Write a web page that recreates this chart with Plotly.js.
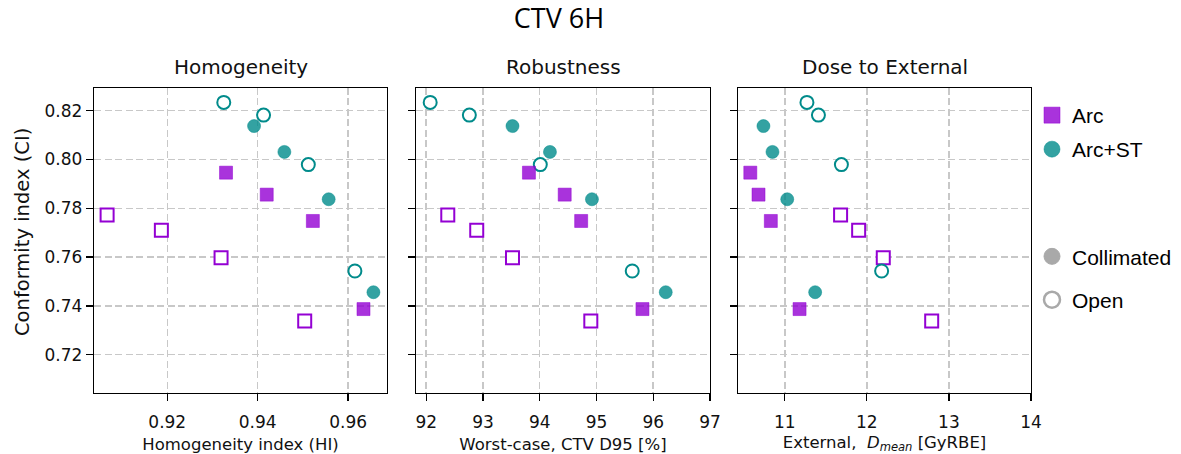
<!DOCTYPE html>
<html>
<head>
<meta charset="utf-8">
<script src="https://cdn.plot.ly/plotly-3.0.1.min.js"></script>
<style>html,body{margin:0;padding:0;background:#fff;}#chart{width:1181px;height:454px;}</style>
</head>
<body>
<div id="chart"></div>
<script>
// Conformity index (CI) per group
const ciArcCol  = [0.7946, 0.7856, 0.7748, 0.7387];
const ciArcOpen = [0.7772, 0.7710, 0.7597, 0.7338];
const ciStCol   = [0.8137, 0.8031, 0.7837, 0.7456];
const ciStOpen  = [0.8234, 0.8182, 0.7979, 0.7543];

// Homogeneity index (HI)
const hiArcCol  = [0.9330, 0.9420, 0.9522, 0.9634];
const hiArcOpen = [0.9067, 0.9187, 0.9319, 0.9504];
const hiStCol   = [0.9392, 0.9459, 0.9557, 0.9656];
const hiStOpen  = [0.9325, 0.9413, 0.9512, 0.9615];

// Worst-case CTV D95 [%]
const d95ArcCol  = [93.81, 94.44, 94.73, 95.81];
const d95ArcOpen = [92.38, 92.89, 93.52, 94.90];
const d95StCol   = [93.52, 94.18, 94.92, 96.22];
const d95StOpen  = [92.07, 92.76, 94.01, 95.63];

// External Dmean [GyRBE]
const dmArcCol  = [10.58, 10.68, 10.83, 11.18];
const dmArcOpen = [11.68, 11.90, 12.20, 12.79];
const dmStCol   = [10.74, 10.85, 11.03, 11.37];
const dmStOpen  = [11.27, 11.41, 11.69, 12.18];

const panelTitles = ['Homogeneity', 'Robustness', 'Dose to External'];
const xTitles = ['Homogeneity index (HI)', 'Worst-case, CTV D95 [%]', 'External,  <i>D</i><sub><i>mean</i></sub> [GyRBE]'];
const yTitle = 'Conformity index (CI)';
const legendLabels = ['Arc', 'Arc+ST', 'Collimated', 'Open'];

const PURPLE = '#9400D3', PURPLE_F = 'rgba(148,0,211,0.8)';
const TEAL = '#008B8B', TEAL_F = 'rgba(0,139,139,0.8)';
const GRAY = '#a9a9a9';

const panels = [
  {xa:'x',  ya:'y',  arcCol:hiArcCol,  arcOpen:hiArcOpen,  stCol:hiStCol,  stOpen:hiStOpen},
  {xa:'x2', ya:'y2', arcCol:d95ArcCol, arcOpen:d95ArcOpen, stCol:d95StCol, stOpen:d95StOpen},
  {xa:'x3', ya:'y3', arcCol:dmArcCol,  arcOpen:dmArcOpen,  stCol:dmStCol,  stOpen:dmStOpen}
];

const traces = [];
panels.forEach(p => {
  traces.push({type:'scatter', mode:'markers', x:p.arcOpen, y:ciArcOpen, xaxis:p.xa, yaxis:p.ya, showlegend:false,
    marker:{symbol:'square', size:13, color:'#ffffff', line:{color:PURPLE, width:2}}});
  traces.push({type:'scatter', mode:'markers', x:p.stOpen, y:ciStOpen, xaxis:p.xa, yaxis:p.ya, showlegend:false,
    marker:{symbol:'circle', size:13, color:'#ffffff', line:{color:TEAL, width:2}}});
  traces.push({type:'scatter', mode:'markers', x:p.arcCol, y:ciArcCol, xaxis:p.xa, yaxis:p.ya, showlegend:false,
    marker:{symbol:'square', size:13, color:PURPLE_F, line:{color:'rgba(148,0,211,0.5)', width:1}}});
  traces.push({type:'scatter', mode:'markers', x:p.stCol, y:ciStCol, xaxis:p.xa, yaxis:p.ya, showlegend:false,
    marker:{symbol:'circle', size:13, color:TEAL_F, line:{color:'rgba(0,139,139,0.5)', width:1}}});
});

// legend entries
const legMarkers = [
  {symbol:'square', size:20, color:PURPLE_F, line:{color:'rgba(148,0,211,0.5)', width:1}},
  {symbol:'circle', size:20, color:TEAL_F, line:{color:'rgba(0,139,139,0.5)', width:1}},
  {symbol:'circle', size:20, color:GRAY, line:{color:GRAY, width:1}},
  {symbol:'circle', size:20, color:'#ffffff', line:{color:GRAY, width:2.5}}
];
const legNames = ['legend', 'legend2', 'legend3', 'legend4'];
legendLabels.forEach((lab, i) => {
  traces.push({type:'scatter', mode:'markers', x:[null], y:[null], xaxis:'x', yaxis:'y', name:lab,
    legend:legNames[i], showlegend:true, marker:legMarkers[i], hoverinfo:'skip'});
});

const gridCol = '#c8c8c8';
function xax(domain, range, dtick, title) {
  return {domain:domain, range:range, dtick:dtick, tick0:0, showgrid:true, gridcolor:gridCol, gridwidth:1.5,
    griddash:'7px,3.5px', zeroline:false, showline:true, mirror:true, linecolor:'#000', linewidth:1.3,
    ticks:'outside', ticklen:7, tickwidth:1.3, tickcolor:'#000', ticklabelstandoff:6,
    tickfont:{family:'DejaVu Sans', size:17, color:'#111'},
    title:{text:title, font:{family:'DejaVu Sans', size:16.5, color:'#111'}, standoff:9}, fixedrange:true};
}
function yax(showLabels, anchor) {
  return {domain:[0.13436, 0.80617], range:[0.7043, 0.8293], dtick:0.02, tick0:0, tickformat:'.2f',
    showgrid:true, gridcolor:gridCol, gridwidth:1.5, griddash:'7px,3.5px', zeroline:false,
    showline:true, mirror:true, linecolor:'#000', linewidth:1.3, ticks:'outside', ticklen:7, tickwidth:1.3,
    tickcolor:'#000', showticklabels:showLabels, anchor:anchor,
    tickfont:{family:'DejaVu Sans', size:17, color:'#111'}, fixedrange:true};
}

const legBase = (y) => ({x:1032/1181, xanchor:'left', y:y, yanchor:'middle', bgcolor:'rgba(0,0,0,0)',
  font:{family:'Liberation Sans, Arial, sans-serif', size:21, color:'#000'}, itemsizing:'trace'});

const annotations = panelTitles.map((t, i) => ({
  text:t, xref:'paper', yref:'paper', showarrow:false,
  x:[240.5, 563, 884.5][i]/1181, y:1-67/454, xanchor:'center', yanchor:'middle',
  font:{family:'DejaVu Sans', size:20, color:'#111'}
}));
annotations.push({text:yTitle, xref:'paper', yref:'paper', showarrow:false, textangle:-90,
  x:22/1181, y:1-232/454, xanchor:'center', yanchor:'middle',
  font:{family:'DejaVu Sans', size:19.5, color:'#111'}});

const layout = {
  width:1181, height:454, margin:{l:0, r:0, t:0, b:0}, paper_bgcolor:'#fff', plot_bgcolor:'#fff',
  title:{text:'CTV 6H', x:559/1181, xanchor:'center', y:1-19/454, yanchor:'middle',
    font:{family:'Open Sans', size:27, color:'#000'}},
  xaxis: Object.assign(xax([94/1181, 387/1181], [0.9038, 0.9686], 0.02, xTitles[0]), {anchor:'y', tickformat:'.2f'}),
  xaxis2: Object.assign(xax([416/1181, 710/1181], [91.82, 97.0], 1, xTitles[1]), {anchor:'y2'}),
  xaxis3: Object.assign(xax([738/1181, 1031/1181], [10.43, 14.0], 1, xTitles[2]), {anchor:'y3'}),
  yaxis: yax(true, 'x'),
  yaxis2: yax(false, 'x2'),
  yaxis3: yax(false, 'x3'),
  legend: legBase(1-115.5/454),
  legend2: legBase(1-149.5/454),
  legend3: legBase(1-256.7/454),
  legend4: legBase(1-300/454),
  annotations: annotations
};

Plotly.newPlot('chart', traces, layout, {staticPlot:true, displayModeBar:false});
</script>
</body>
</html>
